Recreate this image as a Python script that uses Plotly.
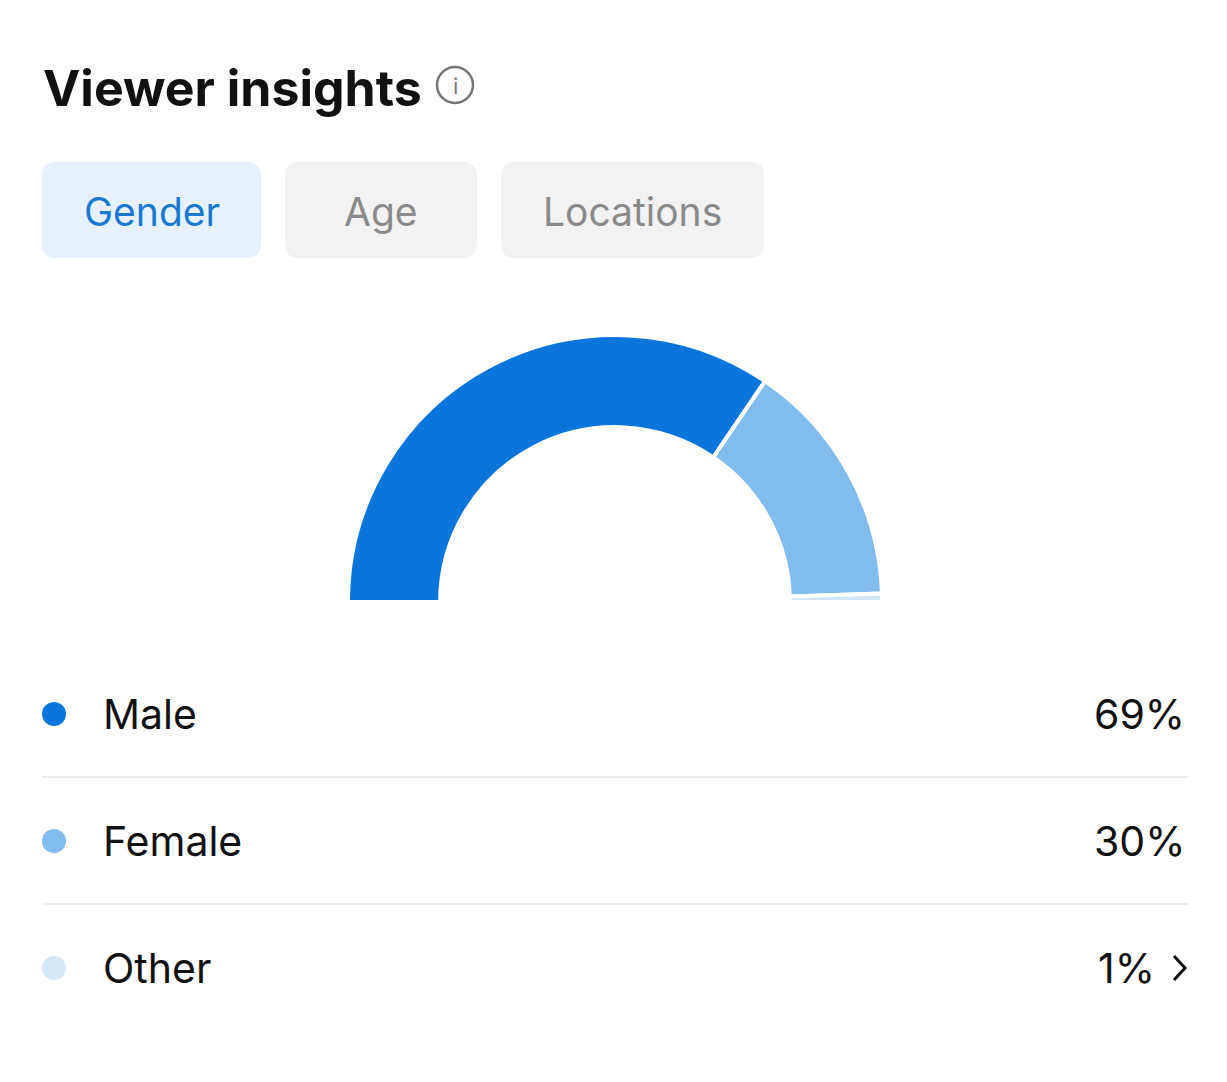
import plotly.graph_objects as go

W, H = 1227, 1082
categories = ["Male", "Female", "Other"]
shares = [69, 30, 1]
share_labels = ["69%", "30%", "1%"]
colors = ["#0a76dc", "#82bcec", "#d3e7f8"]
tabs = ["Gender", "Age", "Locations"]

O = 8  # page offset compensation
fig = go.Figure()
cx, cy, R = 615 - O, 602 - O, 267
fig.add_trace(go.Pie(
    values=shares + [sum(shares)], labels=categories + [""], sort=False,
    direction="clockwise", rotation=-90, hole=0.655, textinfo="none",
    hoverinfo="skip", showlegend=False,
    marker=dict(colors=colors + ["rgba(0,0,0,0)"],
                line=dict(color=["white", "white", "white", "rgba(0,0,0,0)"], width=[4, 4, 4, 0])),
    domain=dict(x=[(cx - R) / W, (cx + R) / W], y=[(H - cy - R) / H, (H - cy + R) / H]),
))

def rrect(x0, y0, x1, y1, r):
    return (f"M{x0+r},{y0} L{x1-r},{y0} Q{x1},{y0} {x1},{y0+r} L{x1},{y1-r} Q{x1},{y1} {x1-r},{y1} "
            f"L{x0+r},{y1} Q{x0},{y1} {x0},{y1-r} L{x0},{y0+r} Q{x0},{y0} {x0+r},{y0} Z")

shapes, ann = [], []
font = "Inter, Roboto, sans-serif"
tab_boxes = [(42, 261), (285, 477), (501, 764)]
for i, (t, (a, b)) in enumerate(zip(tabs, tab_boxes)):
    sel = i == 0
    a, b = a - O, b - O
    shapes.append(dict(type="path", path=rrect(a, 162 - O, b, 258 - O, 14), xref="x", yref="y",
                       fillcolor="#e6f1fc" if sel else "#f2f2f2", line=dict(width=0), layer="below"))
    ann.append(dict(x=(a + b) / 2, y=211 - O, text=t, showarrow=False, xref="x", yref="y",
                    font=dict(size=39, color="#1a78d0" if sel else "#8a8a8a", family=font)))

ann.append(dict(x=43 - O - 2, y=88 - O, text="<b>Viewer insights</b>", showarrow=False, xanchor="left",
                xref="x", yref="y", font=dict(size=50, color="#111", family=font)))
shapes.append(dict(type="circle", x0=437 - O, x1=473 - O, y0=67 - O, y1=103 - O, xref="x", yref="y",
                   line=dict(color="#777", width=2.5)))
ann.append(dict(x=455 - O, y=86 - O, text="i", showarrow=False, xref="x", yref="y",
                font=dict(size=22, color="#777", family=font)))

rows_y = [714, 841, 968]
for i, (c, s, col, y) in enumerate(zip(categories, share_labels, colors, rows_y)):
    y = y - O
    shapes.append(dict(type="circle", x0=42 - O, x1=66 - O, y0=y - 12, y1=y + 12, xref="x", yref="y",
                       fillcolor=col, line=dict(width=0)))
    ann.append(dict(x=103 - O - 2, y=y, text=c, showarrow=False, xanchor="left", xref="x", yref="y",
                    font=dict(size=41, color="#111", family=font)))
    last = i == len(categories) - 1
    ann.append(dict(x=(1157 if last else 1187) - O, y=y, text=s, showarrow=False, xanchor="right",
                    xref="x", yref="y", font=dict(size=41, color="#111", family=font)))
    if not last:
        shapes.append(dict(type="line", x0=42 - O, x1=1188 - O, y0=y + 63, y1=y + 63, xref="x", yref="y",
                           line=dict(color="#e3e3e3", width=1.5)))
shapes.append(dict(type="path", path=f"M{1174-O},{956-O} L{1185-O},{968-O} L{1174-O},{980-O}",
                   xref="x", yref="y", line=dict(color="#111", width=3)))

fig.update_layout(
    width=W, height=H, margin=dict(l=0, r=0, t=0, b=0),
    paper_bgcolor="white", plot_bgcolor="rgba(0,0,0,0)",
    xaxis=dict(range=[0, W], visible=False, fixedrange=True),
    yaxis=dict(range=[H, 0], visible=False, fixedrange=True),
    shapes=shapes, annotations=ann,
)
fig.write_html("out.html")
